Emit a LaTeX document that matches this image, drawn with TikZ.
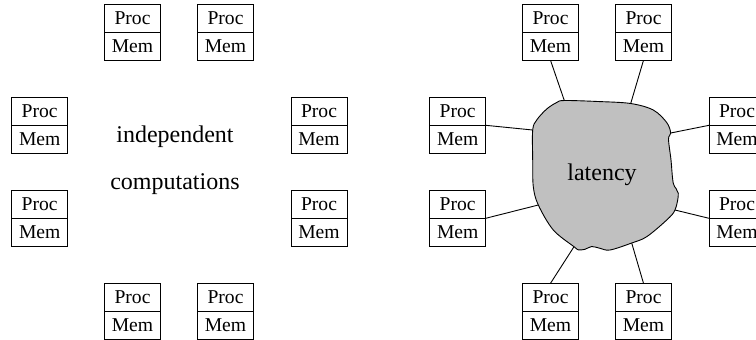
\documentclass[tikz,border=0pt]{standalone}
\usepackage{fontspec}
\setmainfont{Liberation Serif}
\usetikzlibrary{positioning}
\definecolor{BlobGray}{RGB}{192,192,192}
\tikzset{
  cell/.style={draw, outer sep=0pt, inner sep=0pt, minimum width=28pt,
               minimum height=14pt, font=\fontsize{9.8}{11}\selectfont},
  caption/.style={font=\fontsize{12}{14}\selectfont},
  link/.style={draw, line width=0.45pt}
}

\begin{document}
\begin{tikzpicture}[x=0.5pt,y=-0.5pt]
\useasboundingbox (0,0) rectangle (756,339);

% Proc/Mem pairs, left group (a) and right group (b)
\foreach \g/\dx in {a/0,b/418}{
  \foreach \n/\x/\y in {t1/132.5/18.3, t2/225.5/18.3, l1/39.7/111.3, l2/39.7/204.3,
                        r1/319/111.3, r2/319/204.3, b1/132.5/297.3, b2/225.5/297.3}{
    \node[cell] (\g\n p) at (\x+\dx,\y) {Proc};
    \node[cell, below=0pt of \g\n p] (\g\n m) {Mem};
  }
}

\node[caption] (indep) at (175,137) {independent};
\node[caption] (comp) at (175,184) {computations};

% the latency cloud
\draw[fill=BlobGray, line width=0.45pt] plot[smooth cycle, tension=0.55] coordinates {
  (564.3,100.5) (598,101.5) (630.7,103.5) (653.3,110) (666.7,122.5)
  (670.7,133) (668.5,139) (671,160) (673.3,183.3) (678.3,193.3)
  (675,210) (666.7,220) (646.7,236.7) (631.7,243) (610,250)
  (600,248.3) (591.7,246.5) (585,249.3) (578.3,249.8) (574,246.7)
  (553.3,230) (538.3,205) (533.3,186.7) (532.7,160) (532.7,130)
  (536.7,120) (546.7,109) (556.7,102.5)};
\node[caption] (lat) at (602,175) {latency};

\coordinate (ctl) at (564.3,100.5);
\coordinate (ctr) at (630.7,103.5);
\coordinate (crt) at (670.7,133);
\coordinate (crb) at (675,210);
\coordinate (cbr) at (631.7,243);
\coordinate (cbl) at (574,246.7);
\coordinate (clb) at (538.3,205);
\coordinate (clt) at (532.7,130);

\draw[link] (bt1m.south) -- (ctl);
\draw[link] (bt2m.south) -- (ctr);
\draw[link] (br1m.north west) -- (crt);
\draw[link] (br2m.north west) -- (crb);
\draw[link] (bb2p.north) -- (cbr);
\draw[link] (bb1p.north) -- (cbl);
\draw[link] (bl2m.north east) -- (clb);
\draw[link] (bl1m.north east) -- (clt);
\end{tikzpicture}
\end{document}
